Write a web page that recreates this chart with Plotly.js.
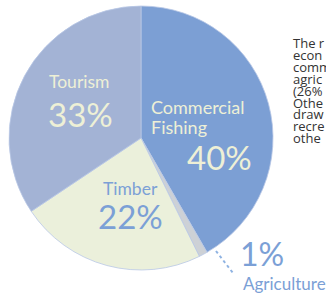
<!DOCTYPE html>
<html>
<head>
<meta charset="utf-8">
<script src="https://cdn.plot.ly/plotly-3.0.1.min.js"></script>
<style>
  html, body { margin: 0; padding: 0; background: #ffffff; overflow: hidden; }
  #chart { width: 326px; height: 293px; }
</style>
</head>
<body>
<div id="chart"></div>
<script>
// ---- Data ----
const categories = ["Commercial Fishing", "Agriculture", "Timber", "Tourism"];
const labelLines = [["Commercial", "Fishing"], ["Agriculture"], ["Timber"], ["Tourism"]];
const values = [40, 1, 22, 33];
const sliceColors = ["#7c9fd4", "#cdd1d6", "#ebf0db", "#a3b3d5"];
const sideTextLines = ["The r", "econ", "comm", "agric", "(26%", "Othe", "draw", "recre", "othe"];

// ---- Geometry helpers (pixel -> paper) ----
const W = 326, H = 293;
const px = x => x / W;
const py = y => 1 - y / H;
const FONT = "Lato, 'Open Sans', sans-serif";
const SIDE_FONT = "'Open Sans', Lato, sans-serif";
const cream = "#eef0d6";
const blue = "#7ba0d6";

const pieTrace = {
  type: "pie",
  labels: categories,
  values: values,
  sort: false,
  direction: "clockwise",
  rotation: 0,
  textinfo: "none",
  hoverinfo: "none",
  showlegend: false,
  marker: { colors: sliceColors, line: { color: "#b9c8e6", width: 0.8 } },
  domain: { x: [px(9), px(273)], y: [py(270), py(6)] }
};

const pct = v => v + "%";
const annotations = [];
function addText(txt, x, y, size, color, xanchor) {
  annotations.push({
    xref: "paper", yref: "paper", x: px(x), y: py(y),
    xanchor: xanchor || "center", yanchor: "middle",
    text: txt, showarrow: false,
    font: { family: FONT, size: size, color: color }
  });
}

// Tourism
addText(labelLines[3][0], 79, 82, 17.5, cream);
addText(pct(values[3]), 80, 114, 33, cream);
// Commercial Fishing
addText(labelLines[0][0], 149, 107, 18, cream, "left");
addText(labelLines[0][1], 149, 127, 18, cream, "left");
addText(pct(values[0]), 219, 157, 33, cream);
// Timber
addText(labelLines[2][0], 130, 188, 17.5, blue);
addText(pct(values[2]), 130, 216, 33, blue);
// Agriculture (outside)
addText(pct(values[1]), 262, 253, 32, blue);
addText(labelLines[1][0], 241, 283, 17, blue, "left");

// Side paragraph (runs off the page edge as in the original)
sideTextLines.forEach((t, i) => {
  annotations.push({
    xref: "paper", yref: "paper", x: px(291), y: py(43 + i * 11.9),
    xanchor: "left", yanchor: "middle", text: t, showarrow: false,
    font: { family: SIDE_FONT, size: 13, color: "#333333" }
  });
});

const layout = {
  width: W, height: H,
  margin: { l: 0, r: 0, t: 0, b: 0 },
  paper_bgcolor: "#ffffff",
  plot_bgcolor: "#ffffff",
  annotations: annotations,
  shapes: [{
    type: "line", xref: "paper", yref: "paper",
    x0: px(216), y0: py(251), x1: px(233), y1: py(273),
    line: { color: "#8fb3e2", width: 2, dash: "3px,3px" }
  }]
};

Plotly.newPlot("chart", [pieTrace], layout, { displayModeBar: false, staticPlot: true });
</script>
</body>
</html>
